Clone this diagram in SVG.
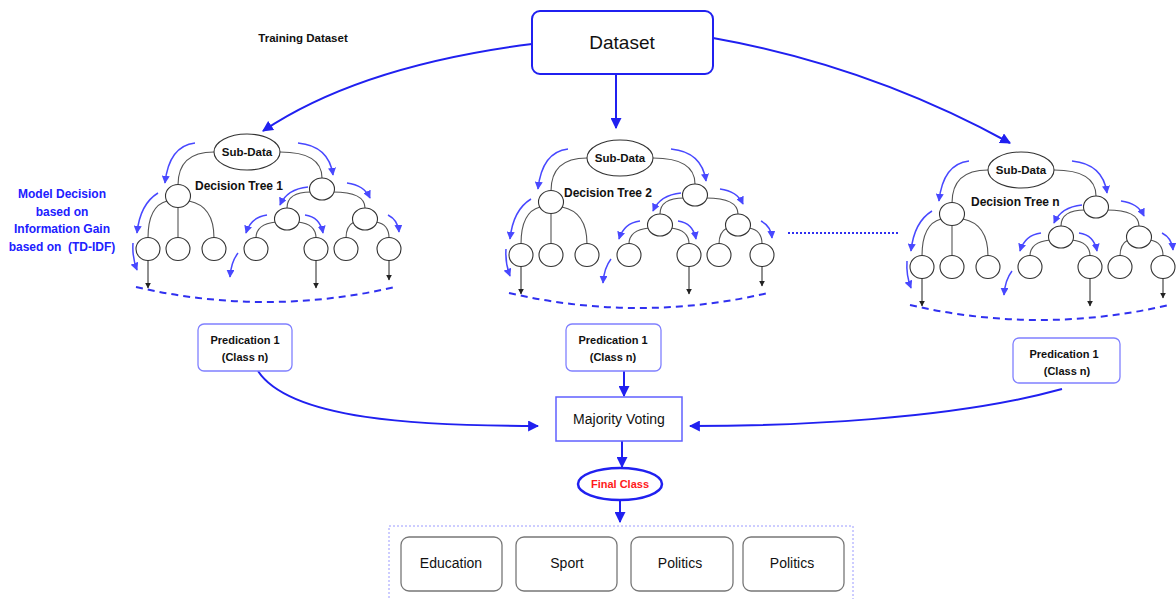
<svg xmlns="http://www.w3.org/2000/svg" xmlns:xlink="http://www.w3.org/1999/xlink" width="1176" height="599" viewBox="0 0 1176 599">
  <style>
    .t { font-family: "Liberation Sans", Arial, sans-serif; fill: #111; }
    .b { font-weight: bold; }
    .node { fill: #fff; stroke: #333; stroke-width: 1.1; }
    .edge { fill: none; stroke: #555; stroke-width: 1.1; }
    .flow { fill: none; stroke: #4848ff; stroke-width: 1.5; }
    .link { fill: none; stroke: #2020f0; stroke-width: 2; }
    .down { fill: none; stroke: #222; stroke-width: 1; }
    .dash { fill: none; stroke: #3030f0; stroke-width: 2; stroke-dasharray: 7 5; }
    .pred { fill: #fff; stroke: #8080ff; stroke-width: 1.3; }
    .cls { fill: #fff; stroke: #777; stroke-width: 1.3; }
    .note { fill: #2020ff; white-space: pre; }
  </style>
  <defs>
    <marker id="ah" viewBox="0 0 10 10" refX="9" refY="5" markerWidth="11" markerHeight="11" markerUnits="userSpaceOnUse" orient="auto">
      <path d="M0,0 L10,5 L0,10 z" fill="#2020f0"/>
    </marker>
    <marker id="ahs" viewBox="0 0 10 10" refX="9" refY="5" markerWidth="8" markerHeight="8" markerUnits="userSpaceOnUse" orient="auto">
      <path d="M0,0 L10,5 L0,10 z" fill="#4848ff"/>
    </marker>
    <marker id="ahk" viewBox="0 0 10 10" refX="9" refY="5" markerWidth="6" markerHeight="6" markerUnits="userSpaceOnUse" orient="auto">
      <path d="M0,0 L10,5 L0,10 z" fill="#222"/>
    </marker>

    <!-- one decision tree, drawn around the Sub-Data node at (0,0) -->
    <g id="tree-shape">
      <!-- branches -->
      <path class="edge" d="M-33,0 Q-69,0 -69,33"/>
      <path class="edge" d="M33,0 Q75,0 75,26"/>
      <path class="edge" d="M-80,49 Q-99,54 -99,86"/>
      <path class="edge" d="M-69,55 L-69,86"/>
      <path class="edge" d="M-58,49 Q-33,54 -33,86"/>
      <path class="edge" d="M64,40 Q40,40 40,56"/>
      <path class="edge" d="M86,40 Q118,40 118,56"/>
      <path class="edge" d="M29,70 Q9,72 9,86"/>
      <path class="edge" d="M51,70 Q69,72 69,86"/>
      <path class="edge" d="M107,70 Q99,74 99,86"/>
      <path class="edge" d="M129,70 Q142,72 142,86"/>
      <!-- nodes -->
      <ellipse class="node" cx="0" cy="0" rx="33" ry="18"/>
      <ellipse class="node" cx="-69" cy="44" rx="12.5" ry="11.5"/>
      <ellipse class="node" cx="75" cy="37" rx="12.5" ry="11"/>
      <ellipse class="node" cx="40" cy="67" rx="12.5" ry="11"/>
      <ellipse class="node" cx="118" cy="67" rx="12.5" ry="11"/>
      <ellipse class="node" cx="-99" cy="97" rx="12" ry="11.5"/>
      <ellipse class="node" cx="-69" cy="97" rx="12" ry="11.5"/>
      <ellipse class="node" cx="-33" cy="97" rx="12" ry="11.5"/>
      <ellipse class="node" cx="9" cy="97" rx="12" ry="11.5"/>
      <ellipse class="node" cx="69" cy="97" rx="12" ry="11.5"/>
      <ellipse class="node" cx="99" cy="97" rx="12" ry="11.5"/>
      <ellipse class="node" cx="142" cy="97" rx="12" ry="11.5"/>
      <!-- leaf outputs -->
      <path class="down" d="M-99,108.5 L-99,136" marker-end="url(#ahk)"/>
      <path class="down" d="M69,108.5 L69,136" marker-end="url(#ahk)"/>
      <path class="down" d="M142,108.5 L142,128" marker-end="url(#ahk)"/>
      <path class="dash" d="M-111,135 Q19,165 148,135"/>
      <!-- traversal arrows -->
      <path class="flow" d="M-52,-9 Q-78,-6 -82,31" marker-end="url(#ahs)"/>
      <path class="flow" d="M51,-9 Q82,-6 86,23" marker-end="url(#ahs)"/>
      <path class="flow" d="M-89,41 Q-107,52 -110,81" marker-end="url(#ahs)"/>
      <path class="flow" d="M-114,91 Q-115,105 -110,118" marker-end="url(#ahs)"/>
      <path class="flow" d="M61,35 Q40,37 33,53" marker-end="url(#ahs)"/>
      <path class="flow" d="M100,31 Q117,33 123,46" marker-end="url(#ahs)"/>
      <path class="flow" d="M20,63 Q4,65 -1,81" marker-end="url(#ahs)"/>
      <path class="flow" d="M58,63 Q73,65 76,81" marker-end="url(#ahs)"/>
      <path class="flow" d="M-9,101 Q-16,110 -17,125" marker-end="url(#ahs)"/>
      <path class="flow" d="M141,63 Q151,68 152,80" marker-end="url(#ahs)"/>
    </g>
  </defs>

  <rect width="1176" height="599" fill="#fff"/>

  <!-- connectors -->
  <g id="connectors">
    <path class="link" d="M532,44 Q360,66 263,131" marker-end="url(#ah)"/>
    <path class="link" d="M616,74 L616,128" marker-end="url(#ah)"/>
    <path class="link" d="M713,38 Q870,66 1010,143" marker-end="url(#ah)"/>
    <path class="link" d="M258,371 C290,420 420,426 538,426" marker-end="url(#ah)"/>
    <path class="link" d="M624,371 L624,396" marker-end="url(#ah)"/>
    <path class="link" d="M1062,389 C950,420 790,426 690,426" marker-end="url(#ah)"/>
    <path class="link" d="M622,441 L622,467" marker-end="url(#ah)"/>
    <path class="link" d="M620,500 L620,522" marker-end="url(#ah)"/>
    <path fill="none" stroke="#3030f0" stroke-width="2" stroke-dasharray="2 2" d="M788,233 L900,233"/>
  </g>

  <text class="t b" x="303" y="42" font-size="11.5" text-anchor="middle">Training Dataset</text>

  <g id="dataset">
    <rect x="532" y="11" width="181" height="63" rx="8" fill="#fff" stroke="#2020f0" stroke-width="2"/>
    <text class="t" x="622" y="49" font-size="19" text-anchor="middle">Dataset</text>
  </g>

  <g id="model-note" font-size="12" text-anchor="middle">
    <text class="t b note" x="62" y="198">Model Decision</text>
    <text class="t b note" x="62" y="216">based on</text>
    <text class="t b note" x="62" y="233">Information Gain</text>
    <text class="t b note" x="62" y="251" xml:space="preserve">based on  (TD-IDF)</text>
  </g>

  <g id="tree-1">
    <use href="#tree-shape" xlink:href="#tree-shape" x="247" y="152"/>
    <text class="t b" x="247" y="156" font-size="11.5" text-anchor="middle">Sub-Data</text>
    <text class="t b" x="195" y="190" font-size="12">Decision Tree 1</text>
  </g>
  <g id="tree-2">
    <use href="#tree-shape" xlink:href="#tree-shape" x="620" y="158"/>
    <text class="t b" x="620" y="162" font-size="11.5" text-anchor="middle">Sub-Data</text>
    <text class="t b" x="564" y="197" font-size="12">Decision Tree 2</text>
  </g>
  <g id="tree-n">
    <use href="#tree-shape" xlink:href="#tree-shape" x="1021" y="170"/>
    <text class="t b" x="1021" y="174" font-size="11.5" text-anchor="middle">Sub-Data</text>
    <text class="t b" x="971" y="206" font-size="12">Decision Tree n</text>
  </g>

  <g id="prediction-1">
    <rect class="pred" x="198" y="324" width="94" height="47" rx="6"/>
    <text class="t b" x="245" y="344" font-size="11" text-anchor="middle">Predication 1</text>
    <text class="t b" x="245" y="361" font-size="11" text-anchor="middle">(Class n)</text>
  </g>
  <g id="prediction-2">
    <rect class="pred" x="566" y="324" width="95" height="47" rx="6"/>
    <text class="t b" x="613" y="344" font-size="11" text-anchor="middle">Predication 1</text>
    <text class="t b" x="613" y="361" font-size="11" text-anchor="middle">(Class n)</text>
  </g>
  <g id="prediction-n">
    <rect class="pred" x="1013" y="338" width="107" height="45" rx="6"/>
    <text class="t b" x="1064" y="358" font-size="11" text-anchor="middle">Predication 1</text>
    <text class="t b" x="1067" y="375" font-size="11" text-anchor="middle">(Class n)</text>
  </g>

  <g id="majority-voting">
    <rect x="556" y="397" width="126" height="44" fill="#fff" stroke="#6060ff" stroke-width="1.5"/>
    <text class="t" x="619" y="424" font-size="14" text-anchor="middle">Majority Voting</text>
  </g>

  <g id="final-class">
    <ellipse cx="620" cy="484" rx="42" ry="16" fill="#fff" stroke="#2020f0" stroke-width="2.5"/>
    <text class="t b" x="620" y="488" font-size="11" text-anchor="middle" style="fill:#ff1a1a">Final Class</text>
  </g>

  <g id="classes">
    <rect x="389" y="526" width="464" height="80" fill="none" stroke="#9a9aff" stroke-width="1" stroke-dasharray="2 2"/>
    <g id="class-education">
      <rect class="cls" x="401" y="537" width="101" height="54" rx="8"/>
      <text class="t" x="451" y="568" font-size="14" text-anchor="middle">Education</text>
    </g>
    <g id="class-sport">
      <rect class="cls" x="516" y="537" width="101" height="54" rx="8"/>
      <text class="t" x="567" y="568" font-size="14" text-anchor="middle">Sport</text>
    </g>
    <g id="class-politics-1">
      <rect class="cls" x="631" y="537" width="102" height="54" rx="8"/>
      <text class="t" x="680" y="568" font-size="14" text-anchor="middle">Politics</text>
    </g>
    <g id="class-politics-2">
      <rect class="cls" x="743" y="537" width="101" height="54" rx="8"/>
      <text class="t" x="792" y="568" font-size="14" text-anchor="middle">Politics</text>
    </g>
  </g>
</svg>
